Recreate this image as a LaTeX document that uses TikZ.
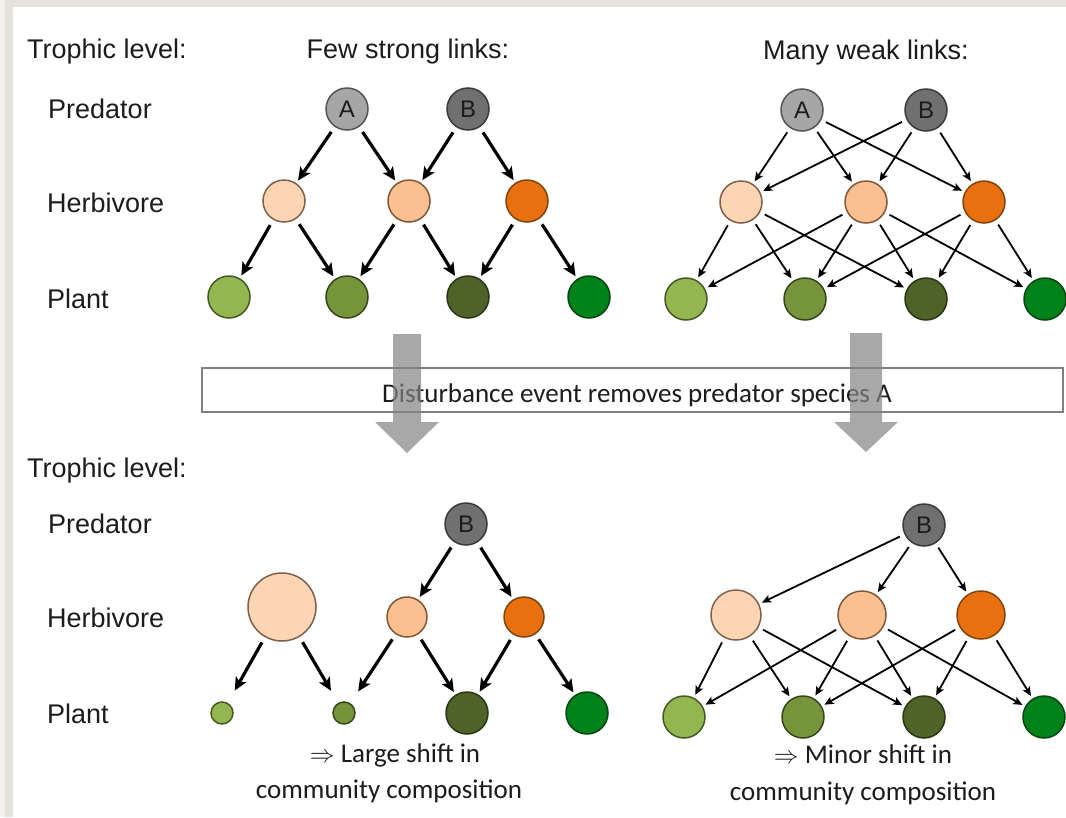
\documentclass[tikz,border=0pt]{standalone}
\usepackage{fontspec}
\setmainfont{Liberation Sans}
\newfontfamily\calfont{Carlito}
\usetikzlibrary{arrows.meta}
\definecolor{bgl}{HTML}{F2F1EA}
\definecolor{bgd}{HTML}{E4E3DB}
\definecolor{txt}{HTML}{1C1C1C}
\definecolor{cA}{HTML}{A6A6A6}\definecolor{cAo}{HTML}{555555}
\definecolor{cB}{HTML}{707070}\definecolor{cBo}{HTML}{3A3A3A}
\definecolor{cHa}{HTML}{FCD5B5}\definecolor{cHao}{HTML}{806048}
\definecolor{cHb}{HTML}{FAC090}\definecolor{cHbo}{HTML}{805838}
\definecolor{cHc}{HTML}{E8700F}\definecolor{cHco}{HTML}{804410}
\definecolor{cPa}{HTML}{93B650}\definecolor{cPao}{HTML}{445A22}
\definecolor{cPb}{HTML}{76953A}\definecolor{cPbo}{HTML}{36461C}
\definecolor{cPc}{HTML}{4F6228}\definecolor{cPco}{HTML}{2A3616}
\definecolor{cPd}{HTML}{00821A}\definecolor{cPdo}{HTML}{0A4410}
\definecolor{boxgray}{HTML}{808080}
\definecolor{garrow}{HTML}{848484}
\begin{document}
\begin{tikzpicture}[x=1pt,y=-1pt,
  nd/.style={circle,inner sep=0pt,minimum size=42pt,line width=1.5pt},
  sA/.style={nd,fill=cA,draw=cAo,font=\fontsize{24}{26}\selectfont,text=txt},
  sB/.style={nd,fill=cB,draw=cBo,font=\fontsize{24}{26}\selectfont,text=txt},
  sHa/.style={nd,fill=cHa,draw=cHao},
  sHb/.style={nd,fill=cHb,draw=cHbo},
  sHc/.style={nd,fill=cHc,draw=cHco},
  sPa/.style={nd,fill=cPa,draw=cPao},
  sPb/.style={nd,fill=cPb,draw=cPbo},
  sPc/.style={nd,fill=cPc,draw=cPco},
  sPd/.style={nd,fill=cPd,draw=cPdo},
  lbl/.style={anchor=base west,inner sep=0pt,font=\fontsize{27}{32}\selectfont,text=txt},
  ttl/.style={anchor=base,inner sep=0pt,font=\fontsize{27}{32}\selectfont,text=txt},
  note/.style={anchor=base,inner sep=0pt,font=\calfont\fontsize{27}{32}\selectfont,text=txt},
  strong/.style={-{Stealth[length=13pt,width=12pt,inset=3pt]},line width=3.2pt,shorten <=6pt,shorten >=3pt},
  weak/.style={-{Stealth[length=9pt,width=8pt,inset=2pt]},line width=1.8pt,shorten <=5pt,shorten >=3pt}]
\useasboundingbox (0,0) rectangle (1066,817);
% background
\fill[bgl] (0,0) rectangle (1066,817);
\fill[bgd] (5,0) rectangle (1066,817);
\fill[white] (13,7) rectangle (1066,817);

% ---------- labels ----------
\node[lbl] (tl1) at (27,58) {Trophic level:};
\node[lbl] (pr1) at (48,118) {Predator};
\node[lbl] (hb1) at (47,212) {Herbivore};
\node[lbl] (pl1) at (47,308) {Plant};
\node[lbl] (tl2) at (27,477) {Trophic level:};
\node[lbl] (pr2) at (48,533) {Predator};
\node[lbl] (hb2) at (47,627) {Herbivore};
\node[lbl] (pl2) at (47,723) {Plant};
\node[ttl] (few) at (408,58) {Few strong links:};
\node[ttl] (many) at (866,59) {Many weak links:};

% ---------- top left ----------
\node[sA] (tlA) at (347,109) {A};
\node[sB] (tlB) at (468,109) {B};
\node[sHa] (tlH1) at (284,201) {};
\node[sHb] (tlH2) at (409,201) {};
\node[sHc] (tlH3) at (527,201) {};
\node[sPa] (tlP1) at (229,297) {};
\node[sPb] (tlP2) at (347,297) {};
\node[sPc] (tlP3) at (468,297) {};
\node[sPd] (tlP4) at (589,297) {};
\foreach \a/\b in {tlA/tlH1,tlA/tlH2,tlB/tlH2,tlB/tlH3,tlH1/tlP1,tlH1/tlP2,tlH2/tlP2,tlH2/tlP3,tlH3/tlP3,tlH3/tlP4}
  \draw[strong] (\a) -- (\b);

% ---------- top right ----------
\node[sA] (trA) at (802,110) {A};
\node[sB] (trB) at (926,110) {B};
\node[sHa] (trH1) at (741,202) {};
\node[sHb] (trH2) at (866,202) {};
\node[sHc] (trH3) at (984,202) {};
\node[sPa] (trP1) at (686,299) {};
\node[sPb] (trP2) at (805,299) {};
\node[sPc] (trP3) at (926,299) {};
\node[sPd] (trP4) at (1045,299) {};
\foreach \a/\b in {trA/trH1,trA/trH2,trA/trH3,trB/trH1,trB/trH2,trB/trH3,
  trH1/trP1,trH1/trP2,trH1/trP3,trH2/trP1,trH2/trP2,trH2/trP3,trH2/trP4,trH3/trP2,trH3/trP3,trH3/trP4}
  \draw[weak] (\a) -- (\b);

% ---------- disturbance box ----------
\draw[boxgray,line width=1.8pt] (202,368) rectangle (1063,412);
\node[note] (dist) at (637,402) {Disturbance event removes predator species A};
\fill[garrow,fill opacity=0.7] (393,334) -- (421,334) -- (421,422) -- (439,422) -- (407,453) -- (375,422) -- (393,422) -- cycle;
\fill[garrow,fill opacity=0.7] (850,333) -- (882,333) -- (882,422) -- (898,422) -- (866,452) -- (834,422) -- (850,422) -- cycle;

% ---------- bottom left ----------
\node[sB] (blB) at (466,524) {B};
\node[sHa,minimum size=68pt] (blH1) at (282,607) {};
\node[sHb,minimum size=40pt] (blH2) at (407,617) {};
\node[sHc,minimum size=40pt] (blH3) at (524,617) {};
\node[sPa,minimum size=22pt] (blP1) at (222,713) {};
\node[sPb,minimum size=22pt] (blP2) at (344,713) {};
\node[sPc] (blP3) at (467,713) {};
\node[sPd] (blP4) at (587,713) {};
\foreach \a/\b in {blB/blH2,blB/blH3,blH2/blP3,blH3/blP3,blH3/blP4}
  \draw[strong] (\a) -- (\b);
\foreach \a/\b in {blH1/blP1,blH1/blP2,blH2/blP2}
  \draw[strong,shorten >=14pt] (\a) -- (\b);
\node[note] (ls1) at (395,762) {$\Rightarrow$ Large shift in};
\node[note] (ls2) at (389,798) {community composition};

% ---------- bottom right ----------
\node[sB] (brB) at (924,525) {B};
\node[sHa,minimum size=50pt] (brH1) at (736,615) {};
\node[sHb,minimum size=48pt] (brH2) at (862,615) {};
\node[sHc,minimum size=48pt] (brH3) at (981,615) {};
\node[sPa] (brP1) at (684,717) {};
\node[sPb] (brP2) at (803,717) {};
\node[sPc] (brP3) at (924,717) {};
\node[sPd] (brP4) at (1044,717) {};
\foreach \a/\b in {brB/brH1,brB/brH2,brB/brH3,
  brH1/brP1,brH1/brP2,brH1/brP3,brH2/brP1,brH2/brP2,brH2/brP3,brH2/brP4,brH3/brP2,brH3/brP3,brH3/brP4}
  \draw[weak] (\a) -- (\b);
\node[note] (ms1) at (863,763) {$\Rightarrow$ Minor shift in};
\node[note] (ms2) at (863,800) {community composition};
\end{tikzpicture}
\end{document}
